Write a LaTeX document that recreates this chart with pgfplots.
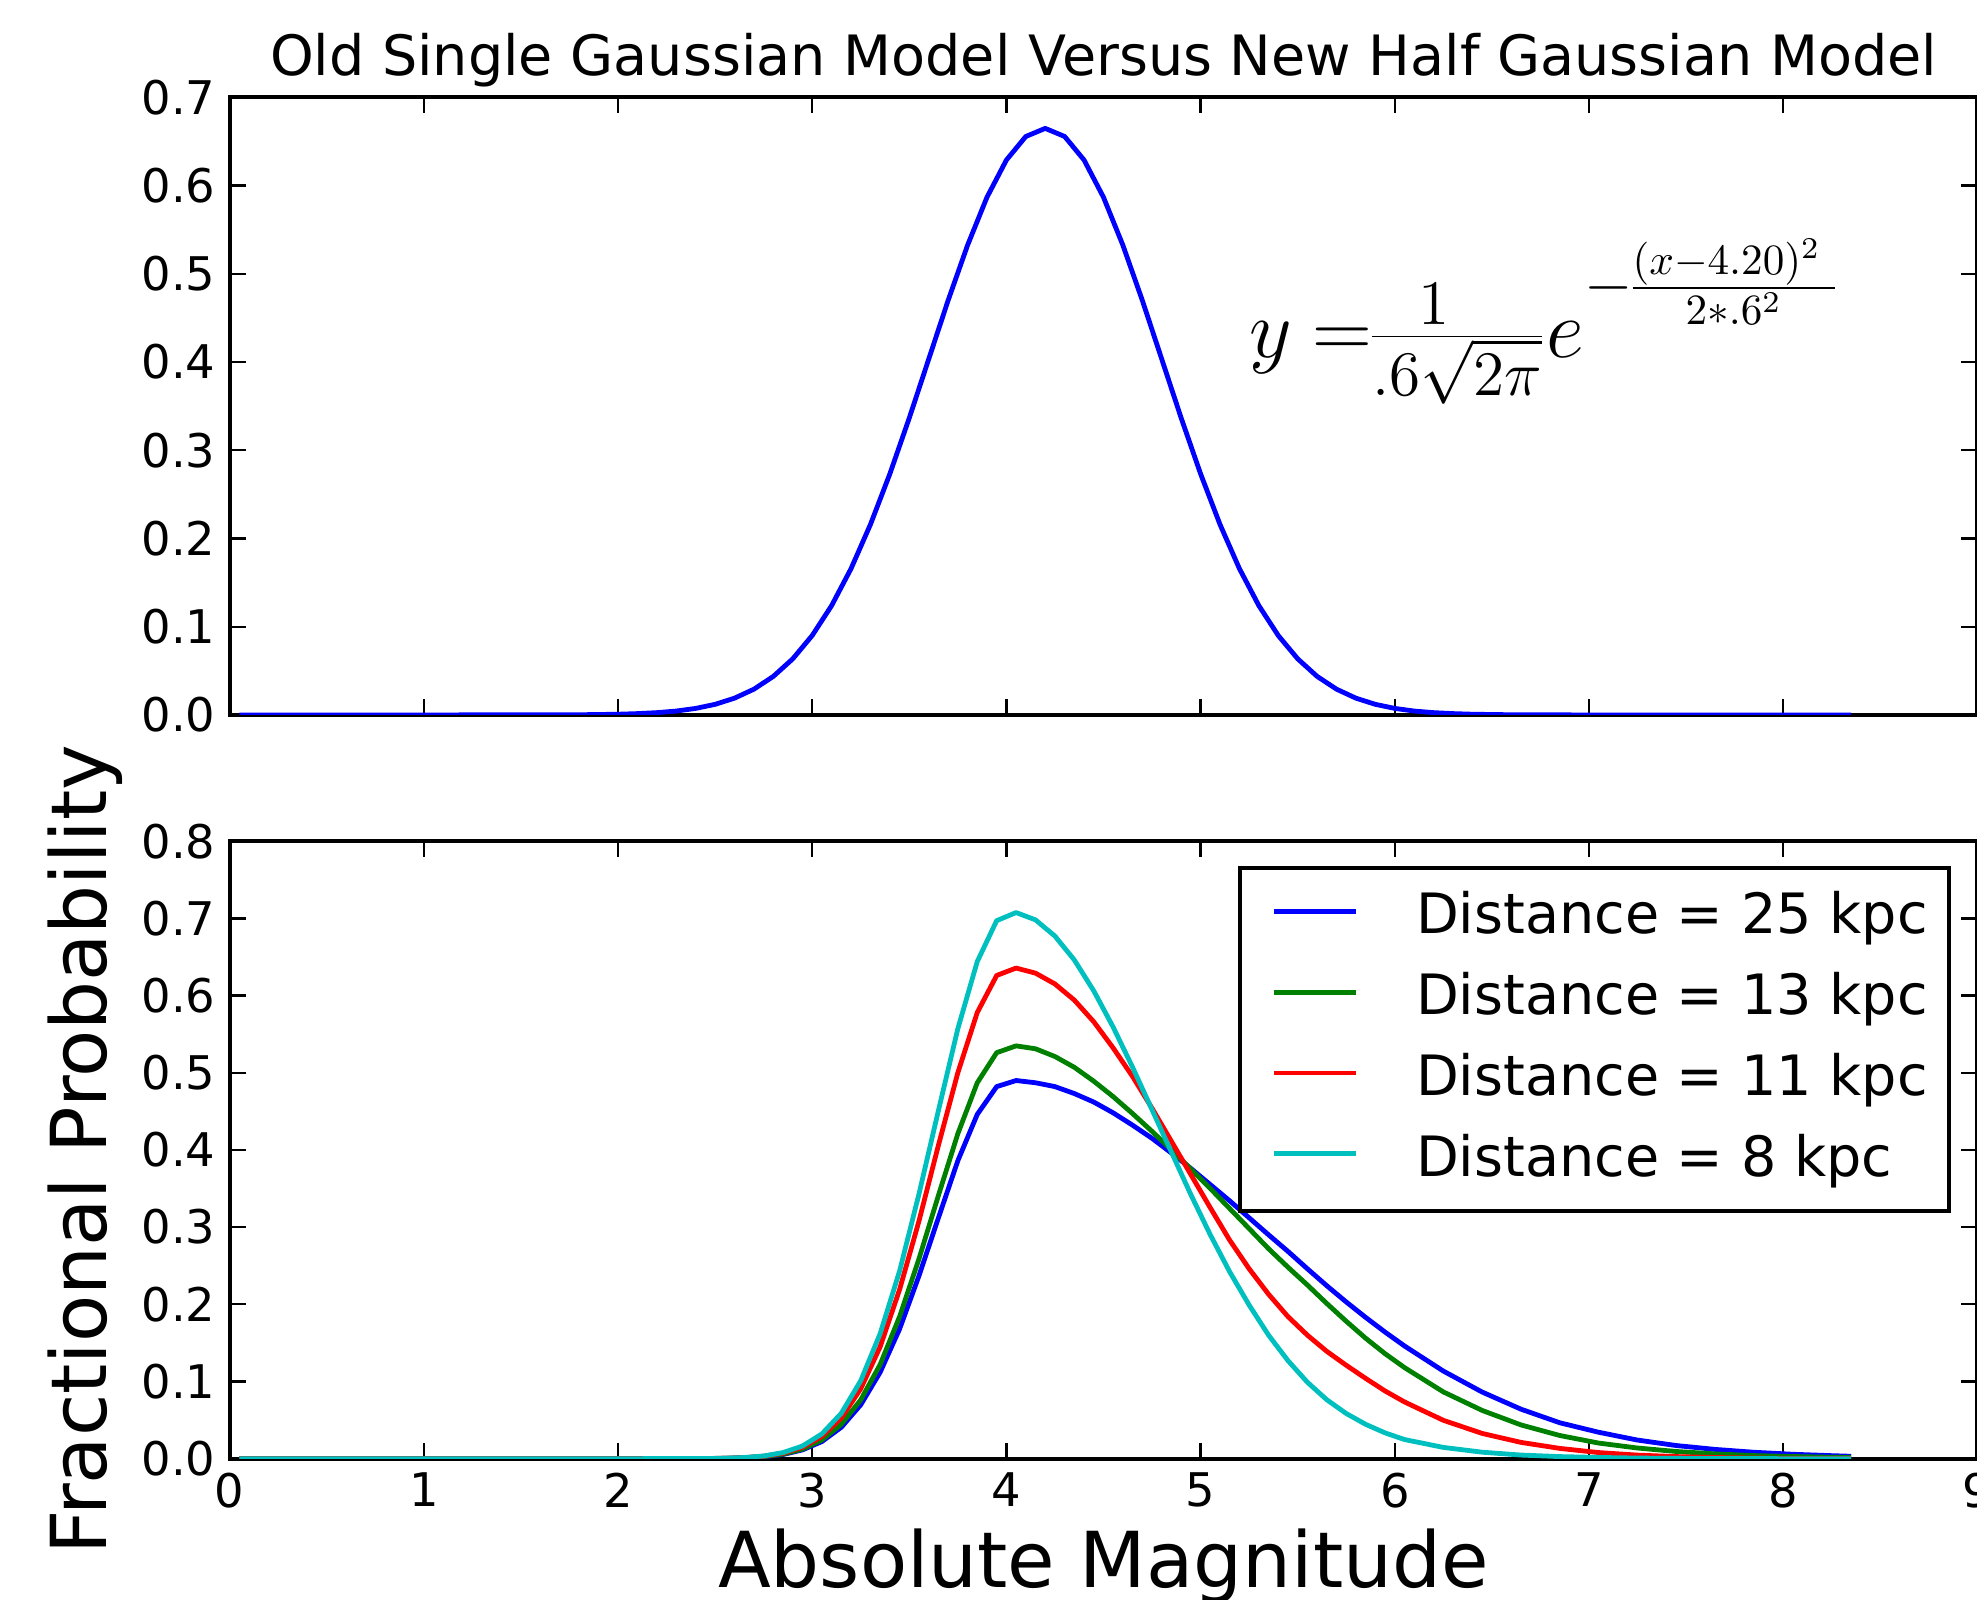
\documentclass[border=0pt]{standalone}
\usepackage{fontspec}
\setmainfont{DejaVu Sans}
\usepackage{pgfplots}
\pgfplotsset{compat=1.18}
\definecolor{mplblue}{rgb}{0,0,1}
\definecolor{mplgreen}{rgb}{0,0.5,0}
\definecolor{mplred}{rgb}{1,0,0}
\definecolor{mplcyan}{rgb}{0,0.75,0.75}
\pgfplotsset{
  common/.style={
    scale only axis, width=437pt, height=154.4pt,
    xmin=0, xmax=9, xtick={0,1,2,3,4,5,6,7,8,9},
    axis line style={line width=1pt},
    tick style={black, line width=0.6pt}, major tick length=4pt,
    tick align=inside,
    /pgf/number format/assume math mode=true,
    tick label style={font=\fontsize{11.6}{13}\selectfont},
    yticklabel style={/pgf/number format/fixed, /pgf/number format/fixed zerofill, /pgf/number format/precision=1},
    every axis plot/.append style={line width=1.2pt, line join=round},
  }
}
\begin{document}
\begin{tikzpicture}
\begin{axis}[common,
  at={(0,185.95pt)}, anchor=south west,
  ymin=0, ymax=0.7, ytick={0,0.1,0.2,0.3,0.4,0.5,0.6,0.7},
  xticklabels={},
  title={Old Single Gaussian Model Versus New Half Gaussian Model},
  title style={font=\fontsize{13.9}{16}\selectfont, anchor=base, at={(0.5,1)}, yshift=-0.4pt},
]
\addplot[mplblue] coordinates {
(0.05,0) (1.0,0) (1.8,0.0002) (2.0,0.0008) (2.1,0.0015) (2.2,0.0026) (2.3,0.0044) (2.4,0.0074) (2.5,0.0120) (2.6,0.0190) (2.7,0.0292) (2.8,0.0437) (2.9,0.0636) (3.0,0.0900) (3.1,0.1239) (3.2,0.1658) (3.3,0.2159) (3.4,0.2733) (3.5,0.3366) (3.6,0.4033) (3.7,0.4699) (3.8,0.5324) (3.9,0.5868) (4.0,0.6290) (4.1,0.6557) (4.2,0.6649) (4.3,0.6557) (4.4,0.6290) (4.5,0.5868) (4.6,0.5324) (4.7,0.4699) (4.8,0.4033) (4.9,0.3366) (5.0,0.2733) (5.1,0.2159) (5.2,0.1658) (5.3,0.1239) (5.4,0.0900) (5.5,0.0636) (5.6,0.0437) (5.7,0.0292) (5.8,0.0190) (5.9,0.0120) (6.0,0.0074) (6.1,0.0044) (6.2,0.0026) (6.3,0.0015) (6.4,0.0008) (6.6,0.0002) (7.0,0) (8.35,0)
};
\node[anchor=base west, inner sep=0pt, font=\fontsize{20}{24}\selectfont] at (axis cs:5.247,0.4055)
  {\nulldelimiterspace=0pt $y\mkern4.5mu{=}\mkern0mu\frac{\scalebox{1.1}{$\scriptstyle 1$}}{\scalebox{1.1}{$\scriptstyle .6\sqrt{2\pi}$}}\mkern1mu e^{\raisebox{5.9pt}{\scalebox{1.08}{\fontsize{14}{16}\selectfont$-\frac{(x-4.20)^2\mkern6mu}{2*.6^2}$}}}$};
\end{axis}
\begin{axis}[common,
  at={(0,0)}, anchor=south west,
  ymin=0, ymax=0.8, ytick={0,0.1,0.2,0.3,0.4,0.5,0.6,0.7,0.8},
  xlabel={Absolute Magnitude},
  xlabel style={font=\fontsize{19.3}{23}\selectfont, at={(axis description cs:0.5,0)}, anchor=base, yshift=-32.25pt},
  ylabel={Fractional Probability},
  ylabel style={font=\fontsize{19.3}{23}\selectfont, at={(axis description cs:-0.0703,0.5)}, anchor=base},
  legend cell align=left,
  legend image code/.code={\path (0pt,0pt) (37.5pt,0pt); \draw[#1] (2.6pt,1.8pt) -- (23.1pt,1.8pt);},
  legend style={at={(0.985,0.9595)}, anchor=north east, draw=black, line width=1pt, fill=white,
    font=\fontsize{13.9}{16}\selectfont, inner xsep=5.4pt, inner ysep=5.8pt, row sep=6.6pt,
    nodes={inner sep=0pt, text height=10.6pt, text depth=3pt}},
]
\addplot[mplblue] coordinates {
(0.05,0) (1.05,0) (2.05,0) (2.45,0.0001) (2.55,0.0004) (2.65,0.0010) (2.75,0.0024) (2.85,0.0054) (2.95,0.0114) (3.05,0.0222) (3.15,0.0407) (3.25,0.0698) (3.35,0.112) (3.45,0.168) (3.55,0.237) (3.65,0.312) (3.75,0.386) (3.85,0.446) (3.95,0.482) (4.05,0.4899) (4.15,0.487) (4.25,0.482) (4.35,0.473) (4.45,0.462) (4.55,0.448) (4.65,0.432) (4.75,0.415) (4.85,0.396) (4.95,0.376) (5.05,0.355) (5.15,0.334) (5.25,0.312) (5.35,0.290) (5.45,0.2685) (5.55,0.246) (5.65,0.224) (5.75,0.203) (5.85,0.183) (5.95,0.164) (6.05,0.146) (6.25,0.1135) (6.45,0.0863) (6.65,0.0641) (6.85,0.0465) (7.05,0.0342) (7.25,0.0241) (7.45,0.0170) (7.65,0.0120) (7.85,0.0083) (8.05,0.0057) (8.25,0.0039) (8.35,0.0031)
};
\addlegendentry{Distance = 25 kpc}
\addplot[mplgreen] coordinates {
(0.05,0) (1.05,0) (2.05,0) (2.45,0.0002) (2.55,0.0004) (2.65,0.0011) (2.75,0.0027) (2.85,0.0059) (2.95,0.0124) (3.05,0.0242) (3.15,0.0445) (3.25,0.0762) (3.35,0.122) (3.45,0.184) (3.55,0.259) (3.65,0.341) (3.75,0.421) (3.85,0.487) (3.95,0.526) (4.05,0.5348) (4.15,0.531) (4.25,0.521) (4.35,0.507) (4.45,0.489) (4.55,0.469) (4.65,0.447) (4.75,0.424) (4.85,0.400) (4.95,0.375) (5.05,0.350) (5.15,0.324) (5.25,0.298) (5.35,0.272) (5.45,0.248) (5.55,0.225) (5.65,0.201) (5.75,0.178) (5.85,0.156) (5.95,0.136) (6.05,0.118) (6.25,0.0865) (6.45,0.0625) (6.65,0.0437) (6.85,0.0300) (7.05,0.0202) (7.25,0.0138) (7.45,0.0093) (7.65,0.0062) (7.85,0.0040) (8.05,0.0028) (8.25,0.0018) (8.35,0.0015)
};
\addlegendentry{Distance = 13 kpc}
\addplot[mplred] coordinates {
(0.05,0) (1.05,0) (2.05,0) (2.45,0.0002) (2.55,0.0005) (2.65,0.0013) (2.75,0.0032) (2.85,0.0071) (2.95,0.0148) (3.05,0.0288) (3.15,0.0529) (3.25,0.0906) (3.35,0.145) (3.45,0.219) (3.55,0.308) (3.65,0.406) (3.75,0.500) (3.85,0.578) (3.95,0.626) (4.05,0.6356) (4.15,0.629) (4.25,0.615) (4.35,0.594) (4.45,0.566) (4.55,0.532) (4.65,0.495) (4.75,0.454) (4.85,0.411) (4.95,0.368) (5.05,0.325) (5.15,0.283) (5.25,0.246) (5.35,0.213) (5.45,0.184) (5.55,0.160) (5.65,0.139) (5.75,0.121) (5.85,0.104) (5.95,0.0877) (6.05,0.0735) (6.25,0.0497) (6.45,0.0327) (6.65,0.0211) (6.85,0.0133) (7.05,0.0079) (7.25,0.0046) (7.45,0.0027) (7.65,0.0015) (7.85,0.0008) (8.05,0.0004) (8.25,0.0002) (8.35,0.0002)
};
\addlegendentry{Distance = 11 kpc}
\addplot[mplcyan] coordinates {
(0.05,0) (1.05,0) (2.05,0) (2.45,0.0002) (2.55,0.0006) (2.65,0.0015) (2.75,0.0035) (2.85,0.0079) (2.95,0.0164) (3.05,0.0321) (3.15,0.0588) (3.25,0.101) (3.35,0.162) (3.45,0.243) (3.55,0.343) (3.65,0.451) (3.75,0.557) (3.85,0.644) (3.95,0.697) (4.05,0.7075) (4.15,0.698) (4.25,0.677) (4.35,0.646) (4.45,0.606) (4.55,0.559) (4.65,0.507) (4.75,0.452) (4.85,0.397) (4.95,0.342) (5.05,0.290) (5.15,0.242) (5.25,0.199) (5.35,0.160) (5.45,0.127) (5.55,0.099) (5.65,0.0763) (5.75,0.0585) (5.85,0.0445) (5.95,0.0334) (6.05,0.0248) (6.25,0.0146) (6.45,0.0084) (6.65,0.0047) (6.85,0.0027) (7.05,0.0016) (7.25,0.0008) (7.45,0.0004) (7.65,0.0002) (7.85,0.0001) (8.05,0) (8.25,0) (8.35,0)
};
\addlegendentry{Distance = 8 kpc}
\end{axis}
\pgfresetboundingbox
\path[use as bounding box] (-57.4pt,-35.3pt) rectangle (436.9pt,364.7pt);
\end{tikzpicture}
\end{document}
